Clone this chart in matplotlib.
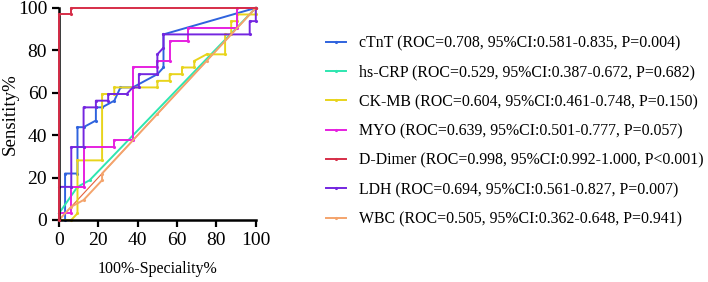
import matplotlib.pyplot as plt

plt.rcParams['font.family'] = ['Liberation Serif', 'DejaVu Serif']

# pontos da curva ROC (100%-Especificidade, Sensibilidade)
ctnt_x = [0, 3.1, 3.1, 9.4, 9.4, 12.5, 18.75, 18.75, 21.9, 28.1, 31.25, 37.5, 50, 53.1, 53.1, 100]
ctnt_y = [0, 0, 21.9, 21.9, 43.75, 43.75, 46.9, 53.1, 53.1, 56.25, 62.5, 62.5, 68.75, 71.9, 87.5, 100]

crp_x = [0, 9.4, 15.6, 100]
crp_y = [3.1, 15.6, 18.75, 100]

ckmb_x = [0, 6.25, 9.4, 9.4, 21.9, 21.9, 28.1, 28.1, 50, 50, 56.25, 56.25, 62.5, 62.5, 68.75, 68.75, 75, 84.4, 84.4, 87.5, 87.5, 90.6, 90.6, 100, 100]
ckmb_y = [0, 0, 3.1, 28.1, 28.1, 59.4, 59.4, 62.5, 62.5, 65.6, 65.6, 68.75, 68.75, 71.9, 71.9, 75, 78.1, 78.1, 87.5, 87.5, 93.75, 93.75, 96.9, 96.9, 100]

myo_x = [0, 0, 6.25, 6.25, 12.5, 12.5, 28.1, 28.1, 37.5, 37.5, 50, 50, 56.25, 56.25, 65.6, 65.6, 90.6, 90.6, 100]
myo_y = [0, 3.1, 3.1, 15.6, 15.6, 34.4, 34.4, 37.5, 37.5, 71.9, 71.9, 75, 75, 84.4, 84.4, 90.6, 90.6, 100, 100]

dd_x = [0, 0, 6.25, 6.25, 100]
dd_y = [0, 96.9, 96.9, 100, 100]

ldh_x = [0, 0, 6.25, 6.25, 12.5, 12.5, 18.75, 18.75, 25, 25, 34.4, 37.5, 40.6, 40.6, 50, 50, 53.1, 53.1, 96.9, 96.9, 100, 100]
ldh_y = [0, 15.6, 15.6, 34.4, 34.4, 53.1, 53.1, 56.25, 56.25, 59.4, 59.4, 62.5, 62.5, 68.75, 68.75, 78.1, 81.25, 87.5, 87.5, 93.75, 93.75, 100]

wbc_x = [0, 6.25, 12.5, 21.9, 21.9, 50, 75, 100]
wbc_y = [0, 6.25, 9.4, 18.75, 21.9, 50, 75, 100]

rotulos = [
    "cTnT (ROC=0.708, 95%CI:0.581-0.835, P=0.004)",
    "hs-CRP (ROC=0.529, 95%CI:0.387-0.672, P=0.682)",
    "CK-MB (ROC=0.604, 95%CI:0.461-0.748, P=0.150)",
    "MYO (ROC=0.639, 95%CI:0.501-0.777, P=0.057)",
    "D-Dimer (ROC=0.998, 95%CI:0.992-1.000, P<0.001)",
    "LDH (ROC=0.694, 95%CI:0.561-0.827, P=0.007)",
    "WBC (ROC=0.505, 95%CI:0.362-0.648, P=0.941)",
]
cores = ["#2f63de", "#2ee6b0", "#e8d41c", "#e620e0", "#d62e48", "#7426e0", "#f4a46c"]
series = [(ctnt_x, ctnt_y), (crp_x, crp_y), (ckmb_x, ckmb_y), (myo_x, myo_y),
          (dd_x, dd_y), (ldh_x, ldh_y), (wbc_x, wbc_y)]

fig = plt.figure(figsize=(7.08, 2.82), dpi=100)
ax = fig.add_axes([0.0833, 0.22, 0.278, 0.752])

# linha de referência
ax.plot([0, 100], [0, 100], color="#e4603c", lw=0.8, zorder=1)

linhas = []
for (x, y), cor, rot in zip(series, cores, rotulos):
    z = 3 if rot.startswith("D-Dimer") else 2
    l, = ax.plot(x, y, color=cor, lw=1.4, marker='.', markersize=2.5, label=rot,
                 zorder=z, clip_on=False)
    linhas.append(l)

ax.set_xlim(0, 100)
ax.set_ylim(0, 100)
ax.set_xticks([0, 20, 40, 60, 80, 100])
ax.set_yticks([0, 20, 40, 60, 80, 100])
ax.spines['top'].set_visible(False)
ax.spines['right'].set_visible(False)
ax.spines['left'].set_linewidth(1.8)
ax.spines['bottom'].set_linewidth(1.8)
ax.tick_params(direction='out', length=5, width=1.6, labelsize=14)
ax.set_xlabel("100%-Speciality%", fontsize=11.5, labelpad=9)
ax.set_ylabel("Sensitity%", fontsize=13.6)
ax.yaxis.set_label_coords(-0.205, 0.5)

fig.legend(handles=linhas, loc='upper left', bbox_to_anchor=(0.441, 0.925),
           frameon=False, fontsize=11.4, handlelength=1.25, labelspacing=0.84,
           handletextpad=0.8)

plt.savefig("out.png", dpi=100)
